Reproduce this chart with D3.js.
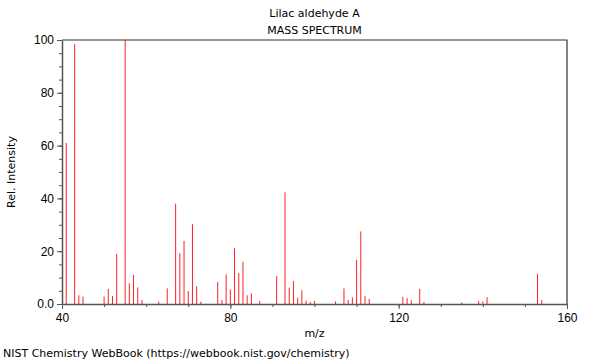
<!DOCTYPE html>
<html>
<head>
<meta charset="utf-8">
<script src="https://cdn.jsdelivr.net/npm/d3@7"></script>
<style>
  body { margin: 0; background: #fff; }
  svg { font-family: "DejaVu Sans", sans-serif; }
  .axis path, .axis line { stroke: #555; }
  .axis text { font-size: 12px; fill: #000; }
</style>
</head>
<body>
<svg id="chart" width="600" height="360"></svg>
<script>
const title = "Lilac aldehyde A";
const subtitle = "MASS SPECTRUM";

// m/z and relative intensity
const mz = [41, 43, 44, 45, 50, 51, 52, 53, 55, 56, 57, 58, 59, 63, 65, 67, 68, 69, 70, 71, 72, 73,
  77, 78, 79, 80, 81, 82, 83, 84, 85, 87, 91, 93, 94, 95, 96, 97, 98, 99, 100, 105, 107, 108, 109,
  110, 111, 112, 113, 121, 122, 123, 125, 126, 135, 139, 140, 141, 153, 154];
const intensity = [61, 98.4, 3.3, 2.8, 2.8, 5.7, 3, 19, 100, 7.8, 11, 6.3, 1.5, 0.9, 5.9, 38, 19.2, 23.9, 4.9, 30.2, 6.7, 0.9,
  8.3, 1.5, 11.2, 5.5, 21.1, 11.7, 16, 3.3, 4, 1.1, 10.6, 42.3, 6.2, 8.7, 2.4, 5.2, 1.3, 0.8, 1.1, 1, 5.9, 1.5, 2.5,
  16.7, 27.5, 3, 2, 2.7, 2.2, 1.4, 5.7, 0.8, 0.6, 1.1, 1, 2.6, 11.4, 1.5];

const xTicks = [40, 80, 120, 160];
const yTicks = [0, 20, 40, 60, 80, 100];

const margin = {left: 62, right: 33, top: 40, bottom: 56};
const width = 600 - margin.left - margin.right;
const height = 360 - margin.top - margin.bottom;

const svg = d3.select("#chart");
const chart = svg.append("g")
  .attr("transform", "translate(" + margin.left + "," + margin.top + ")");

const x = d3.scaleLinear().domain([40, 160]).range([0, width]);
const y = d3.scaleLinear().domain([0, 100]).range([height, 0]);

// minor ticks
chart.append("g")
  .attr("class", "axis")
  .attr("transform", "translate(0," + height + ")")
  .call(d3.axisBottom(x).tickValues(d3.range(40, 161, 10)).tickSize(3).tickFormat(""))
  .select(".domain").remove();
chart.append("g")
  .attr("class", "axis")
  .call(d3.axisLeft(y).tickValues(d3.range(0, 101, 5)).tickSize(3).tickFormat(""))
  .select(".domain").remove();

// bars
chart.selectAll(".peak")
  .data(mz)
  .enter()
  .append("line")
  .attr("class", "peak")
  .attr("x1", d => x(d))
  .attr("x2", d => x(d))
  .attr("y1", y(0))
  .attr("y2", (d, i) => y(intensity[i]))
  .attr("stroke", "#ff2020")
  .attr("stroke-width", 1);

// frame top/right
chart.append("path")
  .attr("d", "M0,0H" + width + "V" + height)
  .attr("fill", "none")
  .attr("stroke", "#333")
  .attr("stroke-width", 1.2);

// major axes
chart.append("g")
  .attr("class", "axis")
  .attr("transform", "translate(0," + height + ")")
  .call(d3.axisBottom(x).tickValues(xTicks).tickSize(5).tickSizeOuter(0).tickPadding(4))
  .select(".domain").attr("stroke-width", 1.5);
chart.append("g")
  .attr("class", "axis")
  .call(d3.axisLeft(y).tickValues(yTicks).tickSize(5).tickSizeOuter(0).tickPadding(3)
    .tickFormat(d => d === 0 ? "0.0" : d))
  .select(".domain").attr("stroke-width", 1.5);

// titles
svg.append("text")
  .attr("x", margin.left + width / 2).attr("y", 17)
  .attr("text-anchor", "middle").style("font-size", "11px")
  .text(title);
svg.append("text")
  .attr("x", margin.left + width / 2).attr("y", 34)
  .attr("text-anchor", "middle").style("font-size", "11px")
  .text(subtitle);

svg.append("text")
  .attr("x", margin.left + width / 2).attr("y", 337)
  .attr("text-anchor", "middle").style("font-size", "11px")
  .text("m/z");

svg.append("text")
  .attr("transform", "translate(15," + (margin.top + height / 2) + ") rotate(-90)")
  .attr("text-anchor", "middle").style("font-size", "11px")
  .text("Rel. Intensity");

svg.append("text")
  .attr("x", 3).attr("y", 357)
  .style("font-size", "11px")
  .text("NIST Chemistry WebBook (https://webbook.nist.gov/chemistry)");
</script>
</body>
</html>
